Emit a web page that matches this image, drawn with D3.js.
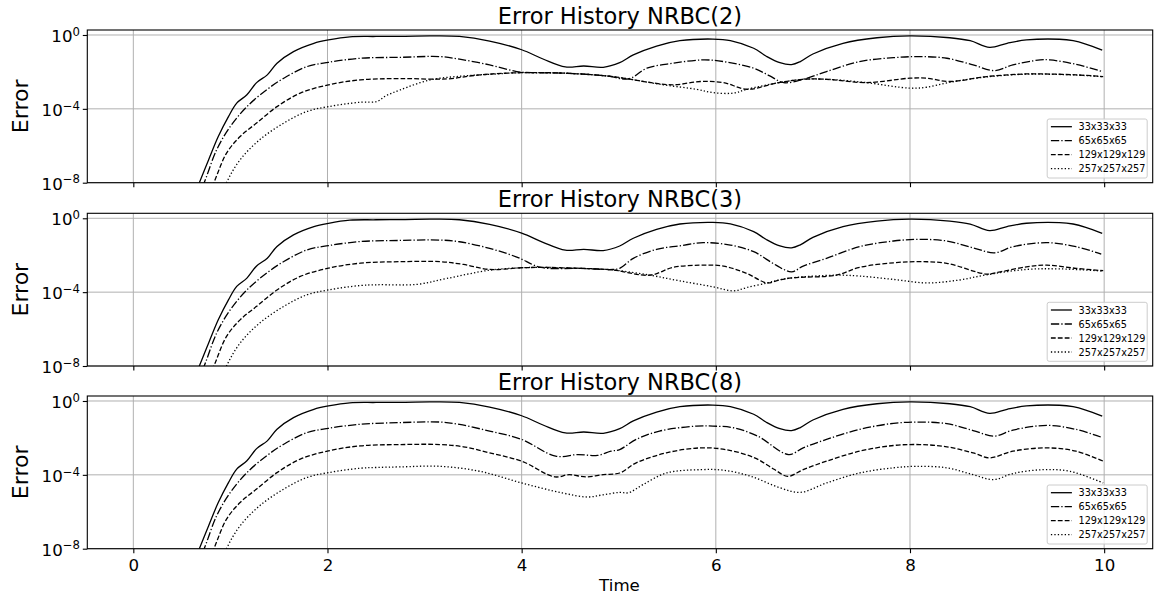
<!DOCTYPE html>
<html><head><meta charset="utf-8">
<script src="https://cdn.jsdelivr.net/npm/d3@7"></script>
<style>body{margin:0;background:#fff;} svg{display:block;font-family:"DejaVu Sans",sans-serif;}</style>
</head><body><svg id="chart" width="1159" height="598"></svg>
<script>
// ---------------- data ----------------
const titles = ["Error History NRBC(2)", "Error History NRBC(3)", "Error History NRBC(8)"];
const seriesNames = ["33x33x33", "65x65x65", "129x129x129", "257x257x257"];
const xTicks = [0, 2, 4, 6, 8, 10];
const yTickExps = [0, -4, -8];           // y ticks: 10^0, 10^-4, 10^-8
const xLabel = "Time";
const yLabel = "Error";

// each point: [time, log10(error)]
const rise33  = [[0.55,-9.6],[0.68,-8.0],[0.78,-6.7],[0.875,-5.5],[0.98,-4.42],[1.065,-3.69],[1.17,-3.24],[1.27,-2.58],[1.38,-2.16],[1.48,-1.53],[1.65,-0.9],[1.86,-0.45],[2.01,-0.27],[2.23,-0.1]];
const rise65  = [[0.6,-9.6],[0.73,-8.0],[0.86,-6.2],[1.0,-4.95],[1.17,-3.88],[1.38,-2.94],[1.55,-2.34],[1.79,-1.71],[2.01,-1.48],[2.34,-1.26]];
const rise129 = [[0.7,-9.6],[0.83,-8.0],[0.96,-6.4],[1.1,-5.5],[1.27,-4.77],[1.48,-3.88],[1.72,-3.15],[2.01,-2.7],[2.34,-2.43]];
const rise257 = [[0.85,-9.6],[0.96,-8.0],[1.1,-6.76],[1.3,-5.68],[1.55,-4.77],[1.79,-4.14],[2.01,-3.88],[2.34,-3.64],[2.51,-3.6]];

const err33 = rise33.concat([[2.5,-0.08],[2.8,-0.07],[3.06,-0.05],[3.36,-0.08],[3.67,-0.33],[4.0,-0.8],[4.22,-1.3],[4.45,-1.73],[4.64,-1.68],[4.84,-1.75],[5.01,-1.5],[5.15,-1.08],[5.39,-0.6],[5.63,-0.31],[5.97,-0.22],[6.15,-0.3],[6.39,-0.72],[6.52,-1.15],[6.66,-1.5],[6.78,-1.6],[6.87,-1.44],[7.0,-1.03],[7.31,-0.45],[7.66,-0.15],[8.0,-0.05],[8.41,-0.15],[8.62,-0.31],[8.82,-0.67],[9.0,-0.45],[9.2,-0.27],[9.54,-0.23],[9.68,-0.31],[9.81,-0.49],[9.98,-0.82]]);

// NRBC(2)
const n2_65  = rise65.concat([[2.75,-1.21],[3.16,-1.17],[3.36,-1.31],[3.67,-1.62],[3.95,-1.98],[4.1,-2.04],[4.45,-2.07],[4.88,-2.22],[5.1,-2.38],[5.29,-1.8],[5.56,-1.53],[5.87,-1.35],[6.08,-1.44],[6.39,-1.8],[6.55,-2.2],[6.7,-2.58],[6.9,-2.4],[7.14,-1.98],[7.48,-1.44],[7.83,-1.23],[8.1,-1.17],[8.38,-1.26],[8.65,-1.62],[8.87,-1.93],[9.06,-1.62],[9.34,-1.35],[9.44,-1.35],[9.71,-1.59],[9.98,-1.98]]);
const n2_129 = rise129.concat([[2.75,-2.36],[3.23,-2.38],[3.57,-2.16],[4.0,-2.04],[4.45,-2.07],[4.88,-2.22],[5.1,-2.38],[5.3,-2.55],[5.56,-2.7],[5.84,-2.52],[6.08,-2.58],[6.32,-2.94],[6.63,-2.6],[6.9,-2.4],[7.14,-2.4],[7.55,-2.58],[8.0,-2.34],[8.17,-2.34],[8.41,-2.52],[8.79,-2.25],[9.2,-2.11],[9.37,-2.11],[9.71,-2.16],[9.99,-2.25]]);
const n2_257 = rise257.concat([[2.6,-3.3],[2.75,-2.97],[3.06,-2.43],[3.4,-2.22],[3.74,-2.11],[4.0,-2.04],[4.45,-2.07],[4.88,-2.22],[5.1,-2.38],[5.46,-2.7],[5.8,-2.94],[5.97,-3.12],[6.18,-3.15],[6.32,-2.94],[6.63,-2.6],[6.9,-2.4],[7.14,-2.4],[7.55,-2.58],[8.0,-2.88],[8.17,-2.83],[8.41,-2.56],[8.79,-2.27],[9.2,-2.12],[9.37,-2.12],[9.71,-2.17],[9.99,-2.26]]);

// NRBC(3)
const n3_65  = rise65.concat([[2.75,-1.2],[3.16,-1.18],[3.36,-1.27],[3.67,-1.63],[3.95,-2.1],[4.2,-2.66],[4.6,-2.71],[4.94,-2.77],[5.01,-2.71],[5.15,-2.17],[5.39,-1.68],[5.63,-1.49],[5.87,-1.32],[6.15,-1.45],[6.39,-1.81],[6.62,-2.54],[6.78,-2.9],[6.9,-2.59],[7.14,-2.17],[7.48,-1.54],[7.83,-1.23],[8.1,-1.14],[8.38,-1.23],[8.65,-1.6],[8.87,-1.87],[9.06,-1.54],[9.41,-1.32],[9.71,-1.54],[9.97,-1.94]]);
const n3_129 = rise129.concat([[2.75,-2.35],[3.16,-2.35],[3.4,-2.5],[3.67,-2.77],[4.0,-2.68],[4.2,-2.66],[4.6,-2.71],[4.94,-2.8],[5.32,-3.08],[5.56,-2.66],[5.84,-2.54],[6.08,-2.59],[6.32,-2.99],[6.53,-3.5],[6.66,-3.33],[6.8,-3.22],[7.24,-3.08],[7.48,-2.66],[7.83,-2.41],[8.1,-2.35],[8.38,-2.44],[8.79,-3.02],[8.93,-2.9],[9.2,-2.63],[9.41,-2.54],[9.71,-2.71],[9.99,-2.84]]);
const n3_257 = rise257.concat([[2.92,-3.58],[3.23,-3.26],[3.67,-2.81],[4.0,-2.68],[4.2,-2.66],[4.6,-2.71],[4.94,-2.8],[5.32,-3.08],[5.63,-3.39],[5.97,-3.71],[6.18,-3.93],[6.32,-3.75],[6.53,-3.5],[6.66,-3.33],[6.8,-3.22],[7.24,-3.08],[7.48,-3.13],[7.83,-3.31],[8.17,-3.5],[8.5,-3.35],[8.79,-3.06],[9.2,-2.77],[9.54,-2.74],[9.99,-2.86]]);

// NRBC(8)
const n8_65  = rise65.concat([[2.75,-1.17],[3.16,-1.14],[3.36,-1.27],[3.67,-1.63],[4.0,-2.08],[4.35,-2.99],[4.58,-2.9],[4.78,-2.95],[4.92,-2.72],[5.01,-2.63],[5.18,-2.08],[5.42,-1.63],[5.8,-1.36],[5.97,-1.36],[6.18,-1.45],[6.43,-1.9],[6.75,-2.9],[6.9,-2.54],[7.14,-2.08],[7.48,-1.54],[7.83,-1.21],[8.1,-1.14],[8.38,-1.23],[8.65,-1.6],[8.87,-1.9],[9.06,-1.58],[9.41,-1.32],[9.71,-1.54],[9.97,-1.96]]);
const n8_129 = rise129.concat([[2.75,-2.36],[3.16,-2.36],[3.4,-2.48],[3.67,-2.81],[4.0,-3.26],[4.34,-4.11],[4.49,-3.99],[4.66,-4.11],[4.84,-3.99],[5.01,-3.9],[5.18,-3.35],[5.49,-2.81],[5.84,-2.54],[6.1,-2.63],[6.4,-3.08],[6.6,-3.7],[6.74,-4.08],[6.9,-3.72],[7.14,-3.26],[7.48,-2.72],[7.83,-2.41],[8.1,-2.36],[8.38,-2.48],[8.65,-2.81],[8.82,-3.08],[9.06,-2.72],[9.41,-2.54],[9.71,-2.72],[9.99,-3.26]]);
const n8_257 = rise257.concat([[2.75,-3.57],[3.16,-3.54],[3.57,-3.81],[4.0,-4.44],[4.42,-4.98],[4.68,-5.2],[4.84,-5.08],[5.01,-4.95],[5.1,-4.97],[5.25,-4.53],[5.49,-3.9],[5.84,-3.72],[6.08,-3.75],[6.36,-4.08],[6.66,-4.7],[6.87,-4.95],[7.14,-4.44],[7.48,-3.9],[7.83,-3.62],[8.06,-3.54],[8.38,-3.62],[8.65,-3.99],[8.86,-4.26],[9.06,-3.93],[9.37,-3.72],[9.65,-3.81],[9.99,-4.44]]);

const panelSeries = [
  [err33, n2_65, n2_129, n2_257],
  [err33, n3_65, n3_129, n3_257],
  [err33, n8_65, n8_129, n8_257]
];

// ---------------- layout / style ----------------
const LW = 1.3;
const dashes = [null, [8.3,2.1,1.3,2.1], [4.8,2.1], [1.3,2.15]];
const left = 87.3, right = 1152.7;
const panelTops = [30, 213.3, 396];
const panelH = 152.7;
const svg = d3.select("#chart");

const x = d3.scaleLinear().domain([-0.474, 10.5]).range([left, right]);
const line = (y) => d3.line()
  .x(d => x(d[0]))
  .y(d => y(Math.pow(10, d[1])))
  .curve(d3.curveCatmullRom.alpha(0.5));

panelSeries.forEach((series, p) => {
  const top = panelTops[p], bot = top + panelH;
  const y = d3.scaleLog().domain([1e-8, Math.pow(10, 0.27)]).range([bot, top]);
  const g = svg.append("g");

  // clip
  svg.append("clipPath").attr("id", "clip" + p)
    .append("rect").attr("x", left).attr("y", top).attr("width", right - left).attr("height", panelH);

  // grid
  g.selectAll(".vg").data(xTicks).join("line")
    .attr("x1", d => x(d)).attr("x2", d => x(d)).attr("y1", top).attr("y2", bot)
    .attr("stroke", "#b0b0b0").attr("stroke-width", 1);
  g.selectAll(".hg").data(yTickExps).join("line")
    .attr("x1", left).attr("x2", right)
    .attr("y1", d => y(Math.pow(10, d))).attr("y2", d => y(Math.pow(10, d)))
    .attr("stroke", "#b0b0b0").attr("stroke-width", 1);

  // lines
  const lg = g.append("g").attr("clip-path", `url(#clip${p})`);
  series.forEach((s, i) => {
    lg.append("path").attr("d", line(y)(s))
      .attr("fill", "none").attr("stroke", "#000").attr("stroke-width", LW)
      .attr("stroke-dasharray", dashes[i] ? dashes[i].join(",") : null);
  });

  // axes
  const xa = g.append("g").attr("transform", `translate(0,${bot})`)
    .call(d3.axisBottom(x).tickValues(xTicks).tickSize(4.5).tickSizeOuter(0)
      .tickFormat(p === 2 ? d3.format("d") : () => ""));
  xa.select(".domain").remove();
  xa.selectAll(".tick line").attr("stroke", "#000").attr("stroke-width", 1.1);
  xa.selectAll(".tick text").attr("y", 22.3).attr("dy", null)
    .attr("font-size", 16.67).attr("font-family", "DejaVu Sans").attr("fill", "#000");

  const ya = g.append("g").attr("transform", `translate(${left},0)`)
    .call(d3.axisLeft(y).tickValues(yTickExps.map(e => Math.pow(10, e))).tickSize(4.5).tickPadding(2.8).tickSizeOuter(0));
  ya.select(".domain").remove();
  ya.selectAll(".tick line").attr("stroke", "#000").attr("stroke-width", 1.1);
  ya.selectAll(".tick text").each(function(d) {
    const t = d3.select(this);
    const e = Math.round(Math.log10(d));
    t.text(null).attr("dy", "0.4em").attr("font-size", 16.67).attr("font-family", "DejaVu Sans").attr("fill", "#000");
    t.append("tspan").text("10");
    t.append("tspan").attr("dy", -6.5).attr("font-size", 11.7).text(e < 0 ? "\u2212" + (-e) : String(e));
  });

  // spines
  g.append("rect").attr("x", left).attr("y", top).attr("width", right - left).attr("height", panelH)
    .attr("fill", "none").attr("stroke", "#000").attr("stroke-width", 1.1);

  // title
  g.append("text").attr("x", (left + right) / 2).attr("y", top - 6)
    .attr("text-anchor", "middle").attr("font-size", 22.5).text(titles[p]);

  // y label
  g.append("text").attr("transform", `translate(28.3,${top + panelH / 2}) rotate(-90)`)
    .attr("text-anchor", "middle").attr("font-size", 22).text(yLabel);

  // legend
  const lx = right - 5.5 - 100, ly = bot - 4.7 - 59;
  const leg = g.append("g");
  leg.append("rect").attr("x", lx).attr("y", ly).attr("width", 100).attr("height", 59).attr("rx", 2)
    .attr("fill", "#fff").attr("fill-opacity", 0.8).attr("stroke", "#cccccc").attr("stroke-width", 1);
  seriesNames.forEach((name, i) => {
    const cy = ly + 7.7 + i * 14;
    leg.append("line").attr("x1", lx + 3.7).attr("x2", lx + 24.7).attr("y1", cy).attr("y2", cy)
      .attr("stroke", "#000").attr("stroke-width", LW)
      .attr("stroke-dasharray", dashes[i] ? dashes[i].join(",") : null);
    leg.append("text").attr("x", lx + 31.3).attr("y", cy + 3.5).attr("font-size", 9.7).text(name);
  });
});

// x label
svg.append("text").attr("x", 619.5).attr("y", 591).attr("text-anchor", "middle")
  .attr("font-size", 16.67).text(xLabel);
</script></body></html>
